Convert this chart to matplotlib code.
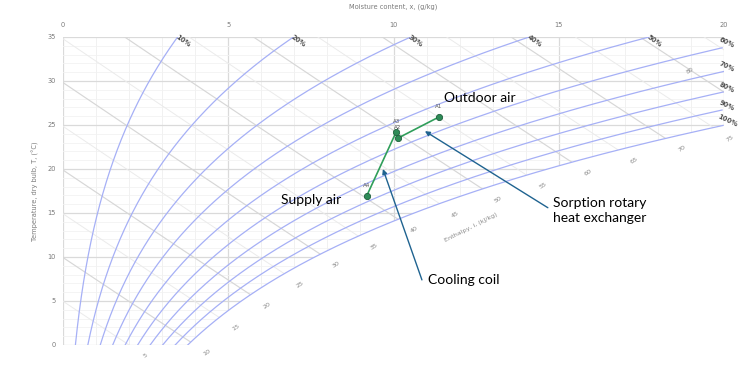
import numpy as np
import matplotlib
matplotlib.use("Agg")
import matplotlib.pyplot as plt
from matplotlib.patches import Polygon

# ---------------- data ----------------
rh_levels = [10, 20, 30, 40, 50, 60, 70, 80, 90, 100]          # %
enthalpy_levels = [5, 10, 15, 20, 25, 30, 35, 40, 45, 50, 55, 60, 65, 70, 75, 80, 85]  # kJ/kg
x_ticks = [0, 5, 10, 15, 20]
t_ticks = [0, 5, 10, 15, 20, 25, 30, 35]

point_names = ["A1", "A2", "A3", "A4"]
point_x = [11.37, 10.13, 10.08, 9.19]      # g/kg
point_t = [25.9, 23.5, 24.2, 16.95]        # degC

P = 101.325


def psat(T):
    return 0.61094 * np.exp(17.625 * T / (T + 243.04))


def x_of(T, rh):
    pv = rh * psat(T)
    return 622.0 * pv / (P - pv)


def t_on_h(h, x):
    return (h - 2.501 * x) / (1.006 + 0.00186 * x)


def x_on_h(h, T):
    return (h - 1.006 * T) / (2.501 + 0.00186 * T)


fig = plt.figure(figsize=(7.38, 3.65), dpi=100)
ax = fig.add_axes([63 / 738, 20 / 365, 661 / 738, 308 / 365])
ax.set_xlim(0, 20)
ax.set_ylim(0, 35)
for s in ax.spines.values():
    s.set_visible(False)

# clip region: unsaturated zone
Tg = np.linspace(0, 40, 4001)
xs = x_of(Tg, 1.0)
T20 = np.interp(20, xs, Tg)
Tc = np.linspace(0, T20, 300)
poly = [(0, 0)] + list(zip(x_of(Tc, 1.0), Tc)) + [(20, T20), (20, 35), (0, 35)]
clip = Polygon(poly, closed=True, transform=ax.transData, facecolor="none", edgecolor="none")
ax.add_patch(clip)

# grid
for xv in range(0, 21):
    major = xv % 5 == 0
    ln, = ax.plot([xv, xv], [0, 35], color="#dadada" if major else "#efefef",
                  lw=0.9 if major else 0.6, zorder=1)
    ln.set_clip_path(clip)
for tv in range(0, 36):
    major = tv % 5 == 0
    ln, = ax.plot([0, 20], [tv, tv], color="#dadada" if major else "#f2f2f2",
                  lw=0.9 if major else 0.6, zorder=1)
    ln.set_clip_path(clip)

# enthalpy lines
xx = np.linspace(0, 20, 200)
Tg2 = np.linspace(-15, 40, 5501)
hs2 = 1.006 * Tg2 + x_of(Tg2, 1.0) * (2501 + 1.86 * Tg2) / 1000
for h in enthalpy_levels:
    dark = h % 10 == 0
    ln, = ax.plot(xx, t_on_h(h, xx), color="#d7d7d7" if dark else "#ebebeb",
                  lw=0.85 if dark else 0.7, zorder=2)
    ln.set_clip_path(clip)
    # label
    Tsat = np.interp(h, hs2, Tg2)
    xsat = x_of(Tsat, 1.0)
    if xsat <= 20:
        Te = max(Tsat, 0.0)
        Tl = Te - 1.2
        xl = x_on_h(h, Tl)
    else:
        Tl = t_on_h(h, 20) + 2.5
        if Tl > 35:
            continue
        xl = x_on_h(h, Tl)
    ax.text(xl, Tl, str(h), fontsize=4.6, color="#8a8a8a", rotation=33,
            ha="center", va="center", clip_on=False, zorder=3)

ax.text(12.35, 13.4, "Enthalpy, i, (kJ/kg)", fontsize=4.6, color="#8a8a8a",
        rotation=27, ha="center", va="center", zorder=3)

# RH curves
Tr = np.linspace(0, 35, 600)
for rh in rh_levels:
    xr = x_of(Tr, rh / 100)
    m = xr <= 20
    ax.plot(xr[m], Tr[m], color="#a6b0f6", lw=0.9, zorder=3)
    x35 = x_of(35.0, rh / 100)
    if x35 <= 20:
        ax.text(x35 - 0.05, 35.1, f"{rh}%", fontsize=4.9, color="#505050",
                fontweight="bold", rotation=-35, ha="left", va="center",
                rotation_mode="anchor", clip_on=False, zorder=4)
    else:
        Te = np.interp(20, x_of(Tg, rh / 100), Tg)
        ax.text(20.1, Te + 0.5, f"{rh}%", fontsize=4.9, color="#505050",
                fontweight="bold", rotation=-25, ha="center", va="center",
                rotation_mode="anchor", clip_on=False, zorder=4)

# ticks
ax.set_xticks([])
ax.set_yticks([])
for xv in x_ticks:
    ax.text(xv, 36.4, str(xv), fontsize=4.8, color="#7a7a7a", ha="center", va="center")
for tv in t_ticks:
    ax.text(-0.22, tv, str(tv), fontsize=4.8, color="#7a7a7a", ha="right", va="center")
fig.text(393.5 / 738, 1 - 7 / 365, "Moisture content, x, (g/kg)", fontsize=4.8,
         color="#7a7a7a", ha="center", va="center")
fig.text(35 / 738, 1 - 191 / 365, "Temperature, dry bulb, T, (°C)", fontsize=4.8,
         color="#7a7a7a", ha="center", va="center", rotation=90)

# process line
ax.plot(point_x, point_t, color="#2f9e5a", lw=1.2, marker="o", markersize=4.5,
        markerfacecolor="#2e8b57", markeredgecolor="#1e5f3c", markeredgewidth=0.6, zorder=6)
for n, px, pt in zip(point_names, point_x, point_t):
    ax.annotate(n, (px, pt), xytext=(0, 6), textcoords="offset points", fontsize=4,
                color="#555555", ha="center", va="bottom", zorder=7)

# annotations
fam = ["Lato", "DejaVu Sans"]
ax.text(11.53, 28.07, "Outdoor air", fontsize=10, family=fam, ha="left", va="center", zorder=8)
ax.text(6.6, 16.5, "Supply air", fontsize=10, family=fam, ha="left", va="center", zorder=8)
ax.text(14.83, 15.3, "Sorption rotary\nheat exchanger", fontsize=10, family=fam,
        ha="left", va="center", linespacing=1.25, zorder=8)
ax.text(11.04, 7.4, "Cooling coil", fontsize=10, family=fam, ha="left", va="center", zorder=8)

arrow_c = "#1f6390"
ax.annotate("", xy=(10.95, 24.3), xytext=(14.67, 15.6),
            arrowprops=dict(arrowstyle="-|>", color=arrow_c, lw=1.0, mutation_scale=7,
                            shrinkA=0, shrinkB=0), zorder=8)
ax.annotate("", xy=(9.68, 20.0), xytext=(10.86, 7.4),
            arrowprops=dict(arrowstyle="-|>", color=arrow_c, lw=1.0, mutation_scale=7,
                            shrinkA=0, shrinkB=0), zorder=8)

fig.savefig("out.png", dpi=100)
